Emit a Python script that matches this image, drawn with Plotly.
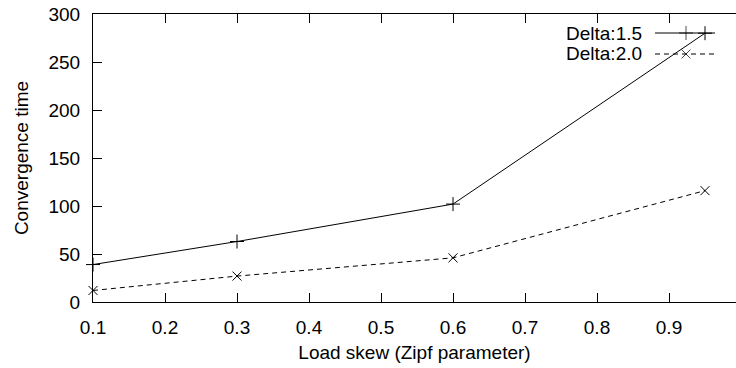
import plotly.graph_objects as go

# Data
zipf = [0.1, 0.3, 0.6, 0.95]
delta_15 = [39, 63, 102, 280]
delta_20 = [12, 27, 46, 116]
series_names = ["Delta:1.5", "Delta:2.0"]
x_ticks = [0.1, 0.2, 0.3, 0.4, 0.5, 0.6, 0.7, 0.8, 0.9]
y_ticks = [0, 50, 100, 150, 200, 250, 300]

FONT = dict(family="Liberation Sans, Arial, Helvetica, sans-serif", size=19, color="black")
L, T, B, W, H = 93, 14, 66, 736, 368
PW = W - L
PH = H - T - B
XMIN = 0.1
XMAX = XMIN + PW / 720.0  # 72 px per 0.1

fig = go.Figure()

fig.add_trace(go.Scatter(
    x=zipf, y=delta_15, mode="lines+markers", name=series_names[0],
    line=dict(color="black", width=1),
    marker=dict(symbol="cross-thin-open", size=10, line=dict(color="black", width=1)),
    showlegend=False, cliponaxis=False))
fig.add_trace(go.Scatter(
    x=zipf, y=delta_20, mode="lines+markers", name=series_names[1],
    line=dict(color="black", width=1, dash="5px,4px"),
    marker=dict(symbol="x-thin-open", size=9, line=dict(color="black", width=1)),
    showlegend=False, cliponaxis=False))

# Manual gnuplot-style legend (text left, sample right)
def px_x(p):
    return (p - L) / PW

def px_y(p):
    return (H - B - p) / PH

legend_rows = [(33, "cross-thin-open", "solid", 10), (54, "x-thin-open", "5px,4px", 9)]
for (ypx, sym, dash, ms), name in zip(legend_rows, series_names):
    fig.add_annotation(x=px_x(644), y=px_y(ypx), xref="paper", yref="paper",
                       text=name, showarrow=False, xanchor="right", yanchor="middle",
                       font=FONT)
    fig.add_trace(go.Scatter(
        x=[px_x(655), px_x(686), px_x(715)], y=[px_y(ypx)] * 3,
        xaxis="x2", yaxis="y3", mode="lines+markers",
        line=dict(color="black", width=1, dash=dash),
        marker=dict(symbol=sym, size=[0, ms, 0], line=dict(color="black", width=1)),
        showlegend=False, hoverinfo="skip", cliponaxis=False))

fig.update_layout(
    width=W, height=H,
    margin=dict(l=L, r=0, t=T, b=B),
    paper_bgcolor="white", plot_bgcolor="white",
    font=FONT,
    showlegend=False,
    xaxis=dict(range=[XMIN, XMAX], tickvals=x_ticks, ticktext=[f"{v:.1f}" for v in x_ticks],
               ticks="inside", ticklen=9, tickcolor="black", tickwidth=1,
               ticklabelstandoff=8,
               showline=True, linecolor="black", linewidth=1, mirror="allticks",
               showgrid=False, zeroline=False,
               title=dict(text="Load skew (Zipf parameter)", font=FONT, standoff=8)),
    yaxis=dict(range=[0, 300], tickvals=y_ticks,
               ticks="inside", ticklen=9, tickcolor="black", tickwidth=1,
               ticklabelstandoff=8,
               showline=True, linecolor="black", linewidth=1, mirror=False,
               showgrid=False, zeroline=False,
               title=dict(text="Convergence time", font=FONT, standoff=14)),
    yaxis2=dict(range=[0, 300], tickvals=y_ticks, overlaying="y", side="right",
                ticks="inside", ticklen=9, tickcolor="black", tickwidth=1,
                showticklabels=False, showline=False, showgrid=False, zeroline=False),
    xaxis2=dict(range=[0, 1], overlaying="x", visible=False),
    yaxis3=dict(range=[0, 1], overlaying="y", visible=False),
)

fig.write_html("out.html")
